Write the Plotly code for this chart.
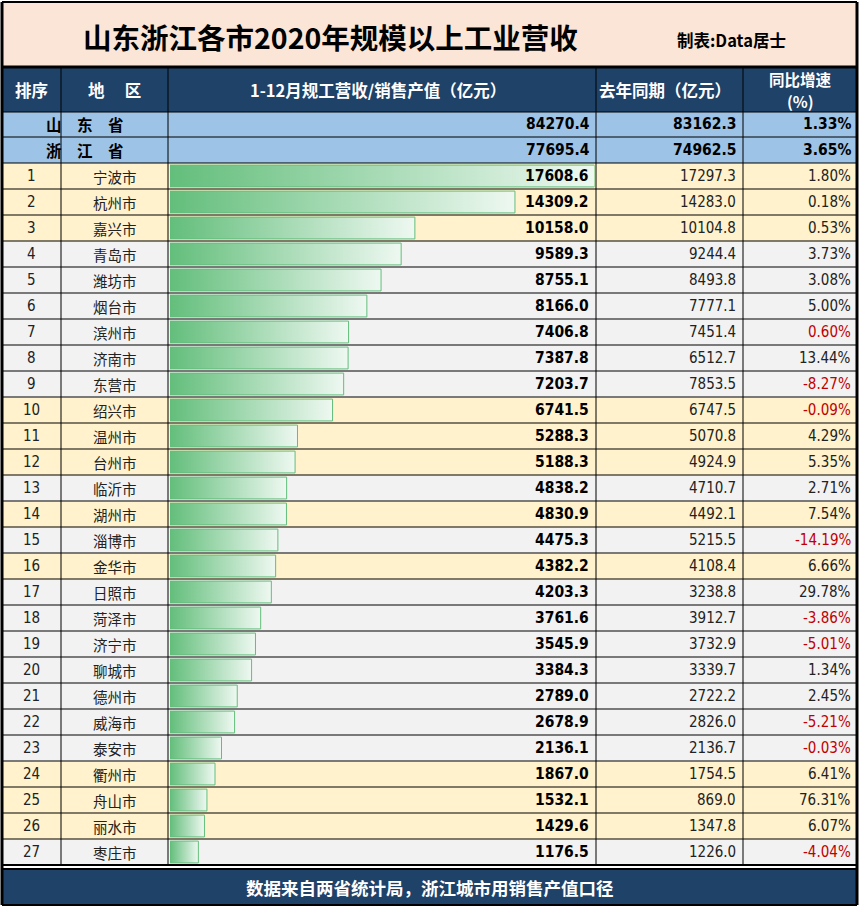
import plotly.graph_objects as go

# ---- data ----
cities = ['宁波市', '杭州市', '嘉兴市', '青岛市', '潍坊市', '烟台市', '滨州市', '济南市', '东营市',
          '绍兴市', '温州市', '台州市', '临沂市', '湖州市', '淄博市', '金华市', '日照市', '菏泽市',
          '济宁市', '聊城市', '德州市', '威海市', '泰安市', '衢州市', '舟山市', '丽水市', '枣庄市']
rev_2020 = [17608.6, 14309.2, 10158.0, 9589.3, 8755.1, 8166.0, 7406.8, 7387.8, 7203.7,
            6741.5, 5288.3, 5188.3, 4838.2, 4830.9, 4475.3, 4382.2, 4203.3, 3761.6,
            3545.9, 3384.3, 2789.0, 2678.9, 2136.1, 1867.0, 1532.1, 1429.6, 1176.5]
rev_2019 = [17297.3, 14283.0, 10104.8, 9244.4, 8493.8, 7777.1, 7451.4, 6512.7, 7853.5,
            6747.5, 5070.8, 4924.9, 4710.7, 4492.1, 5215.5, 4108.4, 3238.8, 3912.7,
            3732.9, 3339.7, 2722.2, 2826.0, 2136.7, 1754.5, 869.0, 1347.8, 1226.0]
growth = ['1.80%', '0.18%', '0.53%', '3.73%', '3.08%', '5.00%', '0.60%', '13.44%', '-8.27%',
          '-0.09%', '4.29%', '5.35%', '2.71%', '7.54%', '-14.19%', '6.66%', '29.78%', '-3.86%',
          '-5.01%', '1.34%', '2.45%', '-5.21%', '-0.03%', '6.41%', '76.31%', '6.07%', '-4.04%']
zhejiang = ['宁波市', '杭州市', '嘉兴市', '绍兴市', '温州市', '台州市', '湖州市', '金华市',
            '衢州市', '舟山市', '丽水市']
provinces = ['山　东　省', '浙　江　省']
prov_2020 = ['84270.4', '77695.4']
prov_2019 = ['83162.3', '74962.5']
prov_growth = ['1.33%', '3.65%']

title = '山东浙江各市2020年规模以上工业营收'
credit = '制表:Data居士'
headers = ['排序', '地　 区', '1-12月规工营收/销售产值（亿元）', '去年同期（亿元）']
header_last = ['同比增速', '(%)']
footer = '数据来自两省统计局，浙江城市用销售产值口径'

W, H = 859, 910
CJK = 'Noto Sans CJK SC'
NUM = 'DejaVu Sans Condensed, Noto Sans CJK SC'
NAVY = '#1F4268'
GREEN = '#63BE7B'
RED = '#C00000'


def X(p):
    return p / W


def Y(p):
    return 1 - p / H


cols = [2, 61, 168, 596, 743, 857]
top_rows = 163
row_h = 26
n = len(cities)
bottom_rows = top_rows + row_h * n

fig = go.Figure()
shapes = []
ann = []


def rect(x0, y0, x1, y1, color):
    shapes.append(dict(type='rect', xref='paper', yref='paper', x0=X(x0), x1=X(x1),
                       y0=Y(y1), y1=Y(y0), fillcolor=color, line_width=0, layer='below'))


def line(x0, y0, x1, y1, w=1, color='black'):
    shapes.append(dict(type='line', xref='paper', yref='paper', x0=X(x0), x1=X(x1),
                       y0=Y(y0), y1=Y(y1), line=dict(color=color, width=w)))


# backgrounds
rect(2, 2, 857, 66, '#FBE5D6')
rect(2, 68, 857, 112, NAVY)
rect(2, 112, 857, 163, '#9DC3E6')
for i, c in enumerate(cities):
    y0 = top_rows + row_h * i
    rect(2, y0, 857, y0 + row_h, '#FFF2CC' if c in zhejiang else '#F2F2F2')
rect(2, 869, 857, 905, NAVY)

# grid lines
for yy in [112, 137] + [top_rows + row_h * i for i in range(n)]:
    line(2, yy, 857, yy, 1)
for xx in cols[1:-1]:
    line(xx, 68, xx, bottom_rows, 1)
# merged province label cells: hide col line between rank/name
rect(60, 112.5, 62.5, 162.5, '#9DC3E6')
line(2, 67, 857, 67, 3)
line(2, bottom_rows, 857, bottom_rows, 2)
line(2, 869, 857, 869, 2)
line(2, 905, 857, 905, 2)
line(2, 2, 857, 2, 2)
line(2, 2, 2, 905, 3)
line(857, 2, 857, 905, 3)

# title
ann.append(dict(x=X(330), y=Y(37), text='<b>' + title + '</b>', font=dict(family=CJK, size=28.5, color='black')))
ann.append(dict(x=X(731), y=Y(40), text='<b>' + credit + '</b>', font=dict(family=CJK, size=16.5, color='black')))

# header
hx = [31.5, 114.5, 378, 665]
for t, x in zip(headers, hx):
    ann.append(dict(x=X(x), y=Y(90), text='<b>' + t + '</b>',
                    font=dict(family=CJK, size=16.5, color='white')))
for t, yy in zip(header_last, [79, 101]):
    ann.append(dict(x=X(800), y=Y(yy), text='<b>' + t + '</b>',
                    font=dict(family=CJK, size=15.5, color='white')))

# province rows
for k, p in enumerate(provinces):
    yc = 124.5 + 25.5 * k
    ann.append(dict(x=X(85), y=Y(yc), text='<b>' + p + '</b>', font=dict(family=CJK, size=15.5, color='black')))
    for val, xr in zip([prov_2020[k], prov_2019[k], prov_growth[k]], cols[3:]):
        ann.append(dict(x=X(xr - 4), y=Y(yc), xanchor='right', text='<b>' + val + '</b>',
                        font=dict(family=NUM, size=15.5, color='black')))

# city rows
for i, c in enumerate(cities):
    r = i + 1
    ann.append(dict(x=X(31.5), y=r, yref='y', text=str(r), font=dict(family=NUM, size=15, color='#222')))
    ann.append(dict(x=X(114.5), y=r, yref='y', text=c, font=dict(family=CJK, size=14.5, color='#222')))
    ann.append(dict(x=X(591), y=r, yref='y', xanchor='right', text='<b>%.1f</b>' % rev_2020[i],
                    font=dict(family=NUM, size=15.5, color='black')))
    ann.append(dict(x=X(738), y=r, yref='y', xanchor='right', text='%.1f' % rev_2019[i],
                    font=dict(family=NUM, size=15, color='#222')))
    col = RED if rev_2020[i] < rev_2019[i] else '#222'
    ann.append(dict(x=X(853), y=r, yref='y', xanchor='right', text=growth[i],
                    font=dict(family=NUM, size=15, color=col)))

# data bars
for i, v in enumerate(rev_2020):
    r = i + 1
    fig.add_trace(go.Scatter(
        x=[0, v, v, 0, 0], y=[r - 0.42, r - 0.42, r + 0.42, r + 0.42, r - 0.42],
        mode='lines', fill='toself', line=dict(color=GREEN, width=1),
        fillgradient=dict(type='horizontal', colorscale=[[0, GREEN], [1, '#EEF8F1']]),
        hoverinfo='skip', showlegend=False))

# footer
ann.append(dict(x=X(430), y=Y(887), text='<b>' + footer + '</b>', font=dict(family=CJK, size=17.5, color='white')))

for a in ann:
    a.setdefault('xref', 'paper')
    a.setdefault('yref', 'paper')
    a.setdefault('xanchor', 'center')
    a['yanchor'] = 'middle'
    a['showarrow'] = False

fig.update_layout(
    width=W, height=H, margin=dict(l=0, r=0, t=0, b=0),
    paper_bgcolor='white', plot_bgcolor='rgba(0,0,0,0)',
    xaxis=dict(domain=[X(170), X(594.5)], range=[0, max(rev_2020)], visible=False, fixedrange=True),
    yaxis=dict(domain=[Y(bottom_rows), Y(top_rows)], range=[n + 0.5, 0.5], visible=False, fixedrange=True),
    shapes=shapes, annotations=ann,
)

fig.write_html('out.html', config={'displayModeBar': False},
               post_script="document.body.style.margin='0';document.body.style.overflow='hidden';")
